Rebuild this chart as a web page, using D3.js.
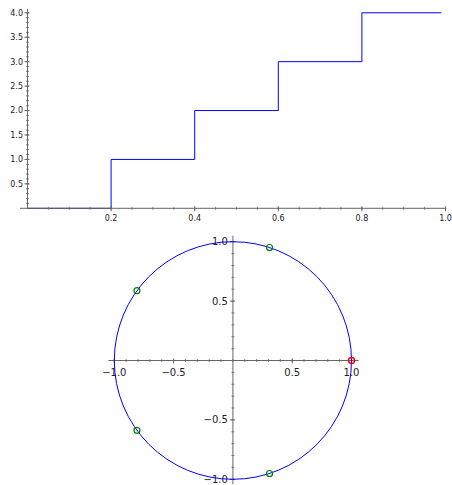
<!DOCTYPE html>
<html>
<head>
<meta charset="utf-8">
<script src="https://cdn.jsdelivr.net/npm/d3@7"></script>
<style>
  body { margin: 0; background: #fff; }
  text { font-family: "DejaVu Sans", sans-serif; font-size: 10px; fill: #222; }
  .top-plot text { font-size: 8px; }
</style>
</head>
<body>
<svg></svg>
<script>
var width = 452, height = 485;

// step plot: breakpoints and level on each piece
var stepX = [0, 0.2, 0.4, 0.6, 0.8, 0.99];
var stepY = [0, 1, 2, 3, 4];
var topXTicks = [0.2, 0.4, 0.6, 0.8, 1.0];
var topYTicks = [0.5, 1.0, 1.5, 2.0, 2.5, 3.0, 3.5, 4.0];

// unit circle with the fifth roots of unity
var rootX = [1.0, 0.309, -0.809, -0.809, 0.309];
var rootY = [0.0, 0.951, 0.588, -0.588, -0.951];
var rootColor = ['red', 'green', 'green', 'green', 'green'];
var circTicks = [-1.0, -0.5, 0.5, 1.0];

var axisColor = '#666';
var blue = '#0000ff';

var svg = d3.select('svg')
            .attr('width', width)
            .attr('height', height);

function fmt(v){
    return d3.format('.1f')(v).replace('-', '\u2212');
}

// ---------- top plot ----------
var x1 = d3.scaleLinear().domain([0, 1]).range([27.5, 445.5]);
var y1 = d3.scaleLinear().domain([0, 4]).range([208.3, 12.8]);

var topPlot = svg.append('g').classed('top-plot', true);

var stepPts = [];
for(var i = 0; i < stepY.length; i++){
    stepPts.push([stepX[i], stepY[i]]);
    stepPts.push([stepX[i+1], stepY[i]]);
}

topPlot.append('path')
    .attr('d', d3.line().x(d => x1(d[0])).y(d => y1(d[1]))(stepPts))
    .attr('fill', 'none')
    .attr('stroke', blue)
    .attr('stroke-width', 1);

// axes
topPlot.append('line')
    .attr('x1', x1(-0.018)).attr('x2', x1(1.002))
    .attr('y1', y1(0)).attr('y2', y1(0))
    .attr('stroke', axisColor);
topPlot.append('line')
    .attr('x1', x1(0)).attr('x2', x1(0))
    .attr('y1', y1(0)).attr('y2', y1(4.08))
    .attr('stroke', axisColor);

topPlot.selectAll('.xminor')
    .data(d3.range(1, 21).map(d => d * 0.05))
    .enter().append('line')
        .attr('x1', d => x1(d)).attr('x2', d => x1(d))
        .attr('y1', y1(0) - 1.5).attr('y2', y1(0) + 1.5)
        .attr('stroke', axisColor).attr('stroke-width', 0.8);

topPlot.selectAll('.xmajor')
    .data(topXTicks)
    .enter().append('line')
        .attr('x1', d => x1(d)).attr('x2', d => x1(d))
        .attr('y1', y1(0) - 2).attr('y2', y1(0) + 3)
        .attr('stroke', axisColor);

topPlot.selectAll('.xlab')
    .data(topXTicks)
    .enter().append('text')
        .attr('x', d => x1(d))
        .attr('y', y1(0) + 12.2)
        .attr('text-anchor', 'middle')
        .text(fmt);

topPlot.selectAll('.yminor')
    .data(d3.range(1, 41).map(d => d * 0.1))
    .enter().append('line')
        .attr('x1', x1(0) - 1.5).attr('x2', x1(0) + 1.5)
        .attr('y1', d => y1(d)).attr('y2', d => y1(d))
        .attr('stroke', axisColor).attr('stroke-width', 0.8);

topPlot.selectAll('.ymajor')
    .data(topYTicks)
    .enter().append('line')
        .attr('x1', x1(0) - 3).attr('x2', x1(0) + 2)
        .attr('y1', d => y1(d)).attr('y2', d => y1(d))
        .attr('stroke', axisColor);

topPlot.selectAll('.ylab')
    .data(topYTicks)
    .enter().append('text')
        .attr('x', x1(0) - 4.5)
        .attr('y', d => y1(d) + 2.9)
        .attr('text-anchor', 'end')
        .text(fmt);

// ---------- bottom plot ----------
var x2 = d3.scaleLinear().domain([-1, 1]).range([114.3, 351.5]);
var y2 = d3.scaleLinear().domain([-1, 1]).range([479.3, 241.7]);

var bot = svg.append('g').classed('bottom-plot', true);

bot.append('line')
    .attr('x1', x2(-1.05)).attr('x2', x2(1.06))
    .attr('y1', y2(0)).attr('y2', y2(0))
    .attr('stroke', axisColor);
bot.append('line')
    .attr('x1', x2(0)).attr('x2', x2(0))
    .attr('y1', y2(-1.04)).attr('y2', y2(1.05))
    .attr('stroke', axisColor);

var minor = d3.range(-10, 11).map(d => d / 10);

bot.selectAll('.xminor')
    .data(minor)
    .enter().append('line')
        .attr('x1', d => x2(d)).attr('x2', d => x2(d))
        .attr('y1', y2(0) - 1.5).attr('y2', y2(0) + 1.5)
        .attr('stroke', axisColor).attr('stroke-width', 0.8);
bot.selectAll('.yminor')
    .data(minor)
    .enter().append('line')
        .attr('x1', x2(0) - 1.5).attr('x2', x2(0) + 1.5)
        .attr('y1', d => y2(d)).attr('y2', d => y2(d))
        .attr('stroke', axisColor).attr('stroke-width', 0.8);

bot.selectAll('.xmajor')
    .data(circTicks)
    .enter().append('line')
        .attr('x1', d => x2(d)).attr('x2', d => x2(d))
        .attr('y1', y2(0) - 2).attr('y2', y2(0) + 3)
        .attr('stroke', axisColor);
bot.selectAll('.ymajor')
    .data(circTicks)
    .enter().append('line')
        .attr('x1', x2(0) - 3).attr('x2', x2(0) + 2)
        .attr('y1', d => y2(d)).attr('y2', d => y2(d))
        .attr('stroke', axisColor);

bot.selectAll('.xlab')
    .data(circTicks)
    .enter().append('text')
        .attr('x', d => x2(d))
        .attr('y', y2(0) + 15)
        .attr('text-anchor', 'middle')
        .text(fmt);
bot.selectAll('.ylab')
    .data(circTicks)
    .enter().append('text')
        .attr('x', x2(0) - 5)
        .attr('y', d => y2(d) + 3.5)
        .attr('text-anchor', 'end')
        .text(fmt);

// the unit circle
bot.append('ellipse')
    .attr('cx', x2(0)).attr('cy', y2(0))
    .attr('rx', x2(1) - x2(0)).attr('ry', y2(0) - y2(1))
    .attr('fill', 'none')
    .attr('stroke', blue)
    .attr('stroke-width', 1);

bot.selectAll('.root')
    .data(rootX)
    .enter().append('circle')
        .attr('cx', d => x2(d))
        .attr('cy', (d, i) => y2(rootY[i]))
        .attr('r', 3)
        .attr('fill', 'none')
        .attr('stroke', (d, i) => rootColor[i])
        .attr('stroke-width', (d, i) => i === 0 ? 1.5 : 1.2);
</script>
</body>
</html>
